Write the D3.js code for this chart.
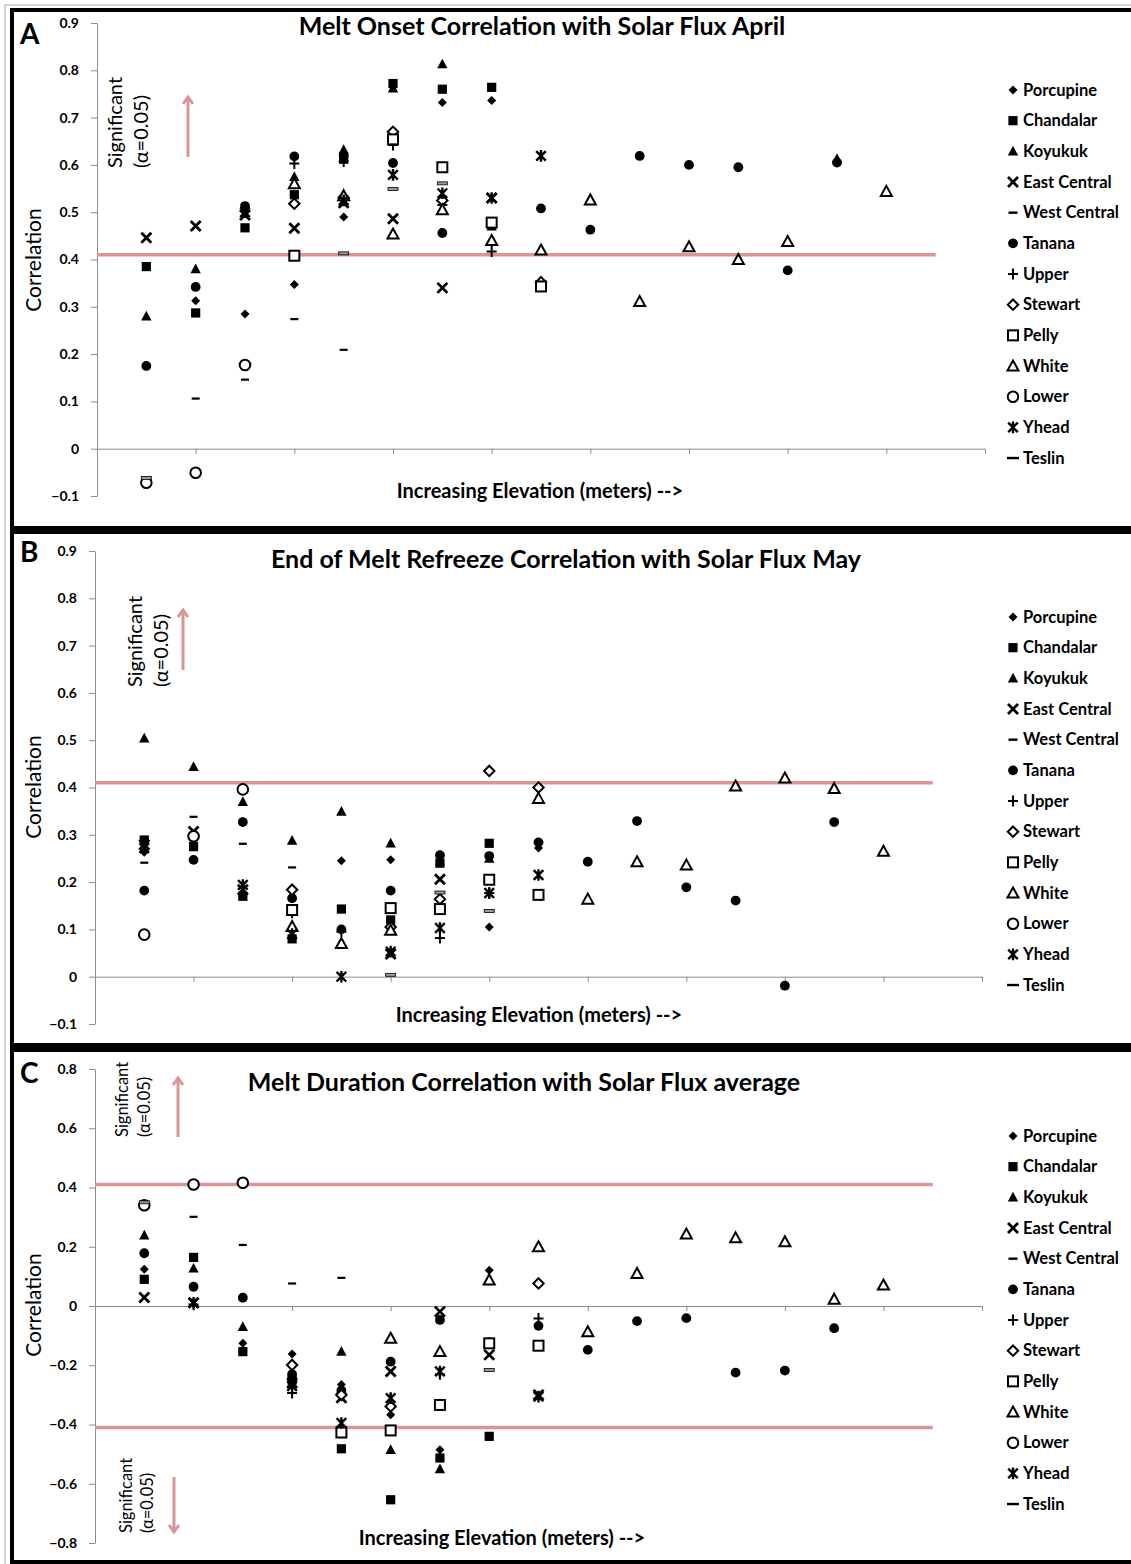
<!DOCTYPE html>
<html>
<head>
<meta charset="utf-8">
<script src="https://cdn.jsdelivr.net/npm/d3@7"></script>
<style>
  body { margin: 0; background: #fff; }
  text { font-family: Lato, "Open Sans", sans-serif; fill: #000; }
</style>
</head>
<body>
<svg id="chart" width="1131" height="1564"></svg>
<script>
// Three scatter panels of correlation vs elevation band (1..16)

var n = null;
var positions = d3.range(1, 17);
var xTicks = [2, 4, 6, 8, 10, 12, 14, 16, 18];
var yTicksAB = [-0.1, 0, 0.1, 0.2, 0.3, 0.4, 0.5, 0.6, 0.7, 0.8, 0.9];
var yTicksC = [-0.8, -0.6, -0.4, -0.2, 0, 0.2, 0.4, 0.6, 0.8];
var sigLevel = 0.41;

var seriesNames = ["Porcupine", "Chandalar", "Koyukuk", "East Central", "West Central", "Tanana",
    "Upper", "Stewart", "Pelly", "White", "Lower", "Yhead", "Teslin"];

// A - melt onset vs April solar flux
var onsetPorcupine   = [n, 0.313, 0.285, 0.347, 0.49, n, 0.732, 0.736, 0.35, n, n, n, n, n, n, n];
var onsetChandalar   = [0.385, 0.287, 0.467, 0.537, 0.612, 0.772, 0.76, 0.764, n, n, n, n, n, n, n, n];
var onsetKoyukuk     = [0.28, 0.38, n, 0.575, 0.632, 0.762, 0.813, 0.47, n, n, n, n, n, n, 0.613, n];
var onsetEastCentral = [0.446, 0.471, 0.494, 0.466, 0.52, 0.486, 0.34, 0.53, n, n, n, n, n, n, n, n];
var onsetWestCentral = [n, 0.106, 0.146, 0.274, 0.209, n, n, n, n, n, n, n, n, n, n, n];
var onsetTanana      = [0.175, 0.342, 0.513, 0.618, 0.62, 0.604, 0.456, n, 0.508, 0.463, 0.619, 0.6, 0.595, 0.377, 0.605, n];
var onsetUpper       = [n, n, n, 0.603, 0.607, 0.642, 0.515, 0.417, n, n, n, n, n, n, n, n];
var onsetStewart     = [n, n, n, 0.518, 0.53, 0.67, 0.525, n, 0.352, n, n, n, n, n, n, n];
var onsetPelly       = [n, n, n, 0.408, n, 0.654, 0.595, 0.478, 0.343, n, n, n, n, n, n, n];
var onsetWhite       = [n, n, n, 0.56, 0.535, 0.454, 0.505, 0.44, 0.42, 0.526, 0.311, 0.427, 0.4, 0.438, n, 0.544];
var onsetLower       = [-0.072, -0.051, 0.177, n, n, n, n, n, n, n, n, n, n, n, n, n];
var onsetYhead       = [n, n, 0.5, n, 0.525, 0.579, 0.54, 0.53, 0.619, n, n, n, n, n, n, n];
var onsetTeslin      = [-0.062, n, n, n, 0.413, 0.549, 0.561, n, n, n, n, n, n, n, n, n];

// B - end of melt refreeze vs May solar flux
var refreezePorcupine   = [0.263, n, n, 0.085, 0.245, 0.247, n, 0.105, 0.272, n, n, n, n, n, n, n];
var refreezeChandalar   = [0.289, 0.275, 0.17, 0.08, 0.143, 0.12, 0.24, 0.282, n, n, n, n, n, n, n, n];
var refreezeKoyukuk     = [0.504, 0.444, 0.37, 0.288, 0.349, 0.282, 0.245, 0.25, n, n, n, n, n, n, n, n];
var refreezeEastCentral = [0.279, 0.307, 0.184, n, n, 0.048, 0.206, n, n, n, n, n, n, n, n, n];
var refreezeWestCentral = [0.241, 0.338, 0.281, 0.231, n, n, n, n, n, n, n, n, n, n, n, n];
var refreezeTanana      = [0.182, 0.247, 0.327, 0.166, 0.1, 0.182, 0.257, 0.255, 0.284, 0.243, 0.329, 0.189, 0.161, -0.019, 0.327, n];
var refreezeUpper       = [n, n, n, 0.135, 0.095, n, 0.082, 0.177, n, n, n, n, n, n, n, n];
var refreezeStewart     = [n, n, n, 0.184, n, 0.105, 0.164, 0.435, 0.4, n, n, n, n, n, n, n];
var refreezePelly       = [n, n, n, 0.141, n, 0.145, 0.143, 0.205, 0.173, n, n, n, n, n, n, n];
var refreezeWhite       = [n, n, n, 0.106, 0.07, 0.098, n, n, 0.377, 0.164, 0.243, 0.236, 0.403, 0.42, 0.398, 0.265];
var refreezeLower       = [0.089, 0.297, 0.396, n, n, n, n, n, n, n, n, n, n, n, n, n];
var refreezeYhead       = [0.272, n, 0.194, 0.09, 0.0, 0.053, 0.103, 0.177, 0.215, n, n, n, n, n, n, n];
var refreezeTeslin      = [n, n, n, n, n, 0.004, 0.178, 0.139, n, n, n, n, n, n, n, n];

// C - melt duration vs average solar flux
var durationPorcupine   = [0.124, n, -0.126, -0.162, -0.265, -0.367, -0.485, 0.121, n, n, n, n, n, n, n, n];
var durationChandalar   = [0.09, 0.164, -0.154, -0.25, -0.482, -0.654, -0.513, -0.44, n, n, n, n, n, n, n, n];
var durationKoyukuk     = [0.239, 0.127, -0.07, -0.24, -0.154, -0.485, -0.55, n, n, n, n, n, n, n, n, n];
var durationEastCentral = [0.029, 0.011, n, -0.26, -0.31, -0.221, -0.019, -0.165, -0.3, n, n, n, n, n, n, n];
var durationWestCentral = [n, 0.301, 0.206, 0.076, 0.095, n, n, n, n, n, n, n, n, n, n, n];
var durationTanana      = [0.178, 0.065, 0.028, -0.23, -0.285, -0.188, -0.047, n, -0.067, -0.148, -0.051, -0.041, -0.225, -0.218, -0.075, n];
var durationUpper       = [n, 0.005, n, -0.294, n, n, -0.23, -0.125, -0.042, n, n, n, n, n, n, n];
var durationStewart     = [n, n, n, -0.199, -0.3, -0.339, n, n, 0.076, n, n, n, n, n, n, n];
var durationPelly       = [n, n, n, n, -0.427, -0.42, -0.334, -0.126, -0.134, n, n, n, n, n, n, n];
var durationWhite       = [n, n, n, n, n, -0.109, -0.154, 0.088, 0.2, -0.087, 0.11, 0.243, 0.23, 0.217, 0.023, 0.071];
var durationLower       = [0.34, 0.41, 0.416, n, n, n, n, n, n, n, n, n, n, n, n, n];
var durationYhead       = [n, 0.011, n, -0.27, -0.395, -0.311, -0.221, n, -0.306, n, n, n, n, n, n, n];
var durationTeslin      = [0.35, n, n, n, n, n, n, -0.216, n, n, n, n, n, n, n, n];

var marks = ["diamond", "square", "triangle", "cross", "dash", "circle", "plus",
    "openDiamond", "openSquare", "openTriangle", "openCircle", "asterisk", "longDash"];

var red = "#d99694";
var axisGrey = "#8c8c8c";

var panels = [
    {
        label: "A", title: "Melt Onset Correlation with Solar Flux April",
        series: [onsetPorcupine, onsetChandalar, onsetKoyukuk, onsetEastCentral, onsetWestCentral, onsetTanana,
            onsetUpper, onsetStewart, onsetPelly, onsetWhite, onsetLower, onsetYhead, onsetTeslin],
        left: 97, right: 985, top: 23, bottom: 496, domain: [-0.1, 0.9], ticks: yTicksAB, lines: [sigLevel],
        titleX: 542, titleY: 35, xTitleX: 540, xTitleY: 498, corrY: 260, letterY: 44, legendY: 90,
        sig: [{ y: 168, x1: 122, x2: 148, size: 20, arrowX: 188, from: 157, to: 97 }]
    },
    {
        label: "B", title: "End of Melt Refreeze Correlation with Solar Flux May",
        series: [refreezePorcupine, refreezeChandalar, refreezeKoyukuk, refreezeEastCentral, refreezeWestCentral, refreezeTanana,
            refreezeUpper, refreezeStewart, refreezePelly, refreezeWhite, refreezeLower, refreezeYhead, refreezeTeslin],
        left: 95, right: 982, top: 551, bottom: 1024, domain: [-0.1, 0.9], ticks: yTicksAB, lines: [sigLevel],
        titleX: 566, titleY: 568, xTitleX: 539, xTitleY: 1022, corrY: 787, letterY: 562, legendY: 617,
        sig: [{ y: 687, x1: 142, x2: 168, size: 20, arrowX: 183, from: 670, to: 610 }]
    },
    {
        label: "C", title: "Melt Duration Correlation with Solar Flux average",
        series: [durationPorcupine, durationChandalar, durationKoyukuk, durationEastCentral, durationWestCentral, durationTanana,
            durationUpper, durationStewart, durationPelly, durationWhite, durationLower, durationYhead, durationTeslin],
        left: 95, right: 982, top: 1069, bottom: 1543, domain: [-0.8, 0.8], ticks: yTicksC, lines: [sigLevel, -sigLevel],
        titleX: 524, titleY: 1091, xTitleX: 502, xTitleY: 1545, corrY: 1305, letterY: 1083, legendY: 1136,
        sig: [{ y: 1137, x1: 128, x2: 150, size: 16.5, arrowX: 178, from: 1137, to: 1078 },
              { y: 1533, x1: 132, x2: 153, size: 16.5, arrowX: 174, from: 1477, to: 1532 }]
    }
];

var svg = d3.select("#chart");

// frames: thick black bands between panels, thin grey outline
svg.append("rect").attr("x", 5).attr("y", 5).attr("width", 1140).attr("height", 1570)
    .attr("fill", "none").attr("stroke", "#aaa").attr("stroke-width", 1);
[[8, 4], [526, 8], [1043, 9], [1560, 5]].forEach(function(b) {
    svg.append("rect").attr("x", 10).attr("y", b[0]).attr("width", 1121).attr("height", b[1]).attr("fill", "#000");
});
svg.append("rect").attr("x", 10).attr("y", 8).attr("width", 4).attr("height", 1556).attr("fill", "#000");

function drawMark(g, type, s) {
    s = s || 1;
    var sw = 2 * s;
    switch (type) {
        case "diamond":
            g.append("path").attr("d", "M0,-4.5L4.5,0L0,4.5L-4.5,0Z").attr("transform", "scale(" + s + ")").attr("fill", "#000");
            break;
        case "square":
            g.append("rect").attr("x", -4.6 * s).attr("y", -4.6 * s).attr("width", 9.2 * s).attr("height", 9.2 * s).attr("fill", "#000");
            break;
        case "triangle":
            g.append("path").attr("d", "M0,-5.5L5.2,4.2L-5.2,4.2Z").attr("transform", "scale(" + s + ")").attr("fill", "#000");
            break;
        case "cross":
            g.append("path").attr("d", "M-5,-5L5,5M5,-5L-5,5").attr("transform", "scale(" + s + ")")
                .attr("stroke", "#000").attr("stroke-width", 2.8).attr("fill", "none");
            break;
        case "dash":
            g.append("rect").attr("x", -4 * s).attr("y", -1.1).attr("width", 8 * s).attr("height", 2.2).attr("fill", "#000");
            break;
        case "circle":
            g.append("circle").attr("r", 4.9 * s).attr("fill", "#000");
            break;
        case "plus":
            g.append("path").attr("d", "M-5,0L5,0M0,-5.5L0,5.5").attr("transform", "scale(" + s + ")")
                .attr("stroke", "#000").attr("stroke-width", 2).attr("fill", "none");
            break;
        case "openDiamond":
            g.append("path").attr("d", "M0,-5.2L5.2,0L0,5.2L-5.2,0Z").attr("transform", "scale(" + s + ")")
                .attr("stroke", "#000").attr("stroke-width", 2).attr("fill", "#fff");
            break;
        case "openSquare":
            g.append("rect").attr("x", -5 * s).attr("y", -5 * s).attr("width", 10 * s).attr("height", 10 * s)
                .attr("stroke", "#000").attr("stroke-width", sw).attr("fill", "#fff");
            break;
        case "openTriangle":
            g.append("path").attr("d", "M0,-5.5L5.5,4.5L-5.5,4.5Z").attr("transform", "scale(" + s + ")")
                .attr("stroke", "#000").attr("stroke-width", 2).attr("fill", "#fff").attr("stroke-linejoin", "miter");
            break;
        case "openCircle":
            g.append("circle").attr("r", 5.3 * s).attr("stroke", "#000").attr("stroke-width", sw).attr("fill", "#fff");
            break;
        case "asterisk":
            g.append("path").attr("d", "M-4.8,-4.8L4.8,4.8M4.8,-4.8L-4.8,4.8M0,-5.8L0,5.8").attr("transform", "scale(" + s + ")")
                .attr("stroke", "#000").attr("stroke-width", 2.4).attr("fill", "none");
            break;
        case "longDash":
            g.append("rect").attr("x", -5).attr("y", -1.5).attr("width", 10).attr("height", 3)
                .attr("fill", "#999").attr("stroke", "#000").attr("stroke-width", 0.8);
            break;
    }
}

function legendMark(g, type) {
    if (type === "longDash") {
        g.append("rect").attr("x", -6).attr("y", -1.2).attr("width", 12).attr("height", 2.4).attr("fill", "#000");
    } else if (type === "dash") {
        g.append("rect").attr("x", -4.5).attr("y", -1.2).attr("width", 9).attr("height", 2.4).attr("fill", "#000");
    } else {
        drawMark(g, type, 1);
    }
}

function fmt(v) {
    return Math.abs(v) < 1e-9 ? "0" : d3.format(".1f")(v);
}

panels.forEach(function(p) {
    var x = d3.scaleLinear().domain([0, 18]).range([p.left, p.right]);
    var y = d3.scaleLinear().domain(p.domain).range([p.bottom, p.top]);
    var g = svg.append("g");

    // y axis
    var ya = g.append("g").attr("transform", "translate(" + p.left + ",0)")
        .call(d3.axisLeft(y).tickValues(p.ticks).tickFormat(fmt).tickSize(6).tickSizeOuter(0).tickPadding(12));
    ya.select(".domain").attr("stroke", axisGrey);
    ya.selectAll(".tick line").attr("stroke", axisGrey);
    ya.selectAll(".tick text").attr("fill", "#000").style("font-size", "14px").style("font-weight", "bold")
        .style("font-family", "Lato, sans-serif");

    // x axis at zero
    var xa = g.append("g").attr("transform", "translate(0," + y(0) + ")")
        .call(d3.axisBottom(x).tickValues(xTicks).tickFormat("").tickSize(5).tickSizeOuter(0));
    xa.select(".domain").attr("stroke", axisGrey);
    xa.selectAll(".tick line").attr("stroke", axisGrey);

    // significance lines
    p.lines.forEach(function(v) {
        g.append("line").attr("x1", x(0)).attr("x2", x(17)).attr("y1", y(v)).attr("y2", y(v))
            .attr("stroke", red).attr("stroke-width", 3.5);
    });

    // points
    p.series.forEach(function(vals, si) {
        positions.forEach(function(pos, i) {
            if (vals[i] === null) return;
            var m = g.append("g").attr("transform", "translate(" + x(pos) + "," + y(vals[i]) + ")");
            drawMark(m, marks[si]);
        });
    });

    // titles
    g.append("text").attr("x", p.titleX).attr("y", p.titleY).attr("text-anchor", "middle")
        .style("font-size", "25px").style("font-weight", "bold").text(p.title);
    g.append("text").attr("x", 20).attr("y", p.letterY).style("font-size", "28px").style("font-weight", "bold").text(p.label);
    g.append("text").attr("transform", "translate(41," + p.corrY + ") rotate(-90)").attr("text-anchor", "middle")
        .style("font-size", "21px").text("Correlation");
    g.append("text").attr("x", p.xTitleX).attr("y", p.xTitleY).attr("text-anchor", "middle")
        .style("font-size", "20px").style("font-weight", "bold").text("Increasing Elevation (meters)  -->");

    // significance notes and arrows
    p.sig.forEach(function(s) {
        g.append("text").attr("transform", "translate(" + s.x1 + "," + s.y + ") rotate(-90)")
            .style("font-size", s.size + "px").text("Significant");
        g.append("text").attr("transform", "translate(" + s.x2 + "," + s.y + ") rotate(-90)")
            .style("font-size", s.size + "px").text("(\u03b1=0.05)");
        var dir = s.to < s.from ? 1 : -1;
        g.append("path")
            .attr("d", "M" + s.arrowX + "," + s.from + "L" + s.arrowX + "," + s.to +
                "M" + (s.arrowX - 5) + "," + (s.to + 7 * dir) + "L" + s.arrowX + "," + s.to +
                "L" + (s.arrowX + 5) + "," + (s.to + 7 * dir))
            .attr("stroke", red).attr("stroke-width", 3).attr("fill", "none");
    });

    // legend
    seriesNames.forEach(function(name, i) {
        var ly = p.legendY + i * 30.67;
        var lg = g.append("g").attr("transform", "translate(1013," + ly + ")");
        legendMark(lg, marks[i]);
        g.append("text").attr("x", 1023).attr("y", ly + 5.5).style("font-size", "16.5px").style("font-weight", "bold").text(name);
    });
});
</script>
</body>
</html>
